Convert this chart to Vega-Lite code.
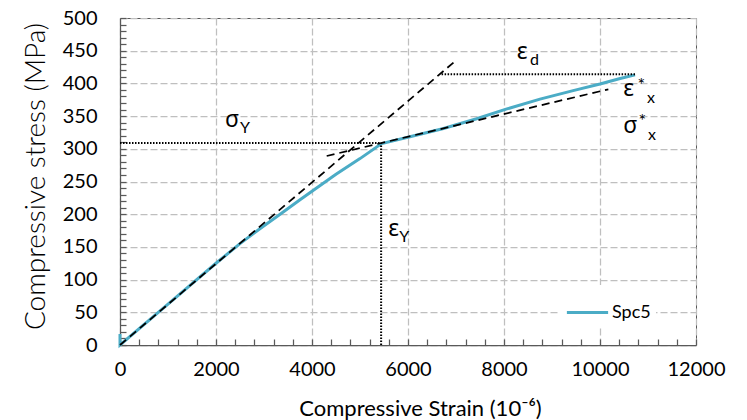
{
  "$schema": "https://vega.github.io/schema/vega-lite/v6.json",
  "autosize": {"type": "none"},
  "width": 576,
  "height": 327,
  "padding": {"left": 120, "top": 18, "right": 51, "bottom": 75},
  "background": "white",
  "config": {
    "font": "Lato",
    "view": {"stroke": "#595959", "strokeWidth": 1},
    "legend": {
      "orient": "none",
      "legendX": 440,
      "legendY": 267,
      "padding": 5,
      "fillColor": "white",
      "symbolType": "stroke",
      "symbolSize": 1700,
      "symbolStrokeWidth": 3,
      "labelFont": "Lato",
      "labelFontSize": 18,
      "labelColor": "#000000",
      "labelOffset": 2,
      "title": null
    }
  },
  "datasets": {
    "curve": [
      {"i": 0, "x": 0, "y": 17, "s": "Spc5"},
      {"i": 1, "x": 0, "y": 0, "s": "Spc5"},
      {"i": 2, "x": 1000, "y": 62.5, "s": "Spc5"},
      {"i": 3, "x": 2000, "y": 125, "s": "Spc5"},
      {"i": 4, "x": 2500, "y": 155, "s": "Spc5"},
      {"i": 5, "x": 2900, "y": 177, "s": "Spc5"},
      {"i": 6, "x": 3300, "y": 198, "s": "Spc5"},
      {"i": 7, "x": 3750, "y": 222, "s": "Spc5"},
      {"i": 8, "x": 4500, "y": 261, "s": "Spc5"},
      {"i": 9, "x": 5000, "y": 285, "s": "Spc5"},
      {"i": 10, "x": 5450, "y": 308, "s": "Spc5"},
      {"i": 11, "x": 6040, "y": 318.5, "s": "Spc5"},
      {"i": 12, "x": 6740, "y": 331, "s": "Spc5"},
      {"i": 13, "x": 7430, "y": 346, "s": "Spc5"},
      {"i": 14, "x": 8060, "y": 361, "s": "Spc5"},
      {"i": 15, "x": 8750, "y": 376, "s": "Spc5"},
      {"i": 16, "x": 9440, "y": 389, "s": "Spc5"},
      {"i": 17, "x": 10000, "y": 399, "s": "Spc5"},
      {"i": 18, "x": 10400, "y": 407, "s": "Spc5"},
      {"i": 19, "x": 10730, "y": 413, "s": "Spc5"}
    ],
    "dashed": [
      {"g": "a", "x": 0, "y": 0},
      {"g": "a", "x": 7014, "y": 436},
      {"g": "b", "x": 4306, "y": 289},
      {"g": "b", "x": 10174, "y": 391}
    ],
    "dotted": [
      {"g": "sy", "x": 0, "y": 309},
      {"g": "sy", "x": 5440, "y": 309},
      {"g": "ey", "x": 5440, "y": 0},
      {"g": "ey", "x": 5440, "y": 309},
      {"g": "ed", "x": 6700, "y": 414},
      {"g": "ed", "x": 10730, "y": 414}
    ],
    "glyphs": [
      {"t": "σ", "x": 2187, "y": 333},
      {"t": "ε", "x": 8264, "y": 438},
      {"t": "ε", "x": 10486, "y": 380},
      {"t": "σ", "x": 10486, "y": 324},
      {"t": "ε", "x": 5590, "y": 166}
    ],
    "subs": [
      {"t": "Y", "x": 2500, "y": 324},
      {"t": "d", "x": 8542, "y": 428},
      {"t": "x", "x": 10979, "y": 370},
      {"t": "x", "x": 11000, "y": 313.5},
      {"t": "Y", "x": 5819, "y": 158}
    ],
    "stars": [
      {"t": "*", "x": 10780, "y": 388},
      {"t": "*", "x": 10800, "y": 334}
    ]
  },
  "resolve": {"axis": {"x": "independent", "y": "independent"}},
  "layer": [
    {
      "data": {"name": "curve"},
      "mark": {"type": "line", "strokeWidth": 3},
      "encoding": {
        "x": {
          "field": "x", "type": "quantitative",
          "scale": {"domain": [0, 12000], "nice": false},
          "axis": {
            "orient": "bottom",
            "values": [0, 2000, 4000, 6000, 8000, 10000, 12000],
            "format": "d",
            "title": "Compressive Strain (10⁻⁶)",
            "ticks": false,
            "labelPadding": 14,
            "labelFlush": false,
            "labelFont": "Lato", "labelFontSize": 20, "labelColor": "#000000",
            "grid": true, "gridDash": [7, 3], "gridColor": "#bfbfbf", "gridWidth": 1.25,
            "domainColor": "#595959", "domainWidth": 1.25,
            "titleFont": "Lato", "titleFontSize": 22, "titleFontWeight": "normal", "titleColor": "#000000",
            "titleX": 300, "titleY": 70, "titleBaseline": "alphabetic", "titleAlign": "center", "titleAnchor": null
          }
        },
        "y": {
          "field": "y", "type": "quantitative",
          "scale": {"domain": [0, 500], "nice": false},
          "axis": {
            "orient": "left",
            "values": [0, 50, 100, 150, 200, 250, 300, 350, 400, 450, 500],
            "title": "Compressive stress (MPa)",
            "ticks": false,
            "labelPadding": 23,
            "labelFont": "Lato", "labelFontSize": 20, "labelColor": "#000000",
            "grid": true, "gridDash": [7, 3], "gridColor": "#bfbfbf", "gridWidth": 1.25,
            "domainColor": "#595959", "domainWidth": 1.25,
            "titleFont": "Lato", "titleFontSize": 28, "titleFontWeight": 300, "titleColor": "#000000",
            "titleAngle": -90, "titleX": -76, "titleY": 158, "titleBaseline": "alphabetic", "titleAlign": "center", "titleAnchor": null
          }
        },
        "order": {"field": "i", "type": "quantitative"},
        "color": {"field": "s", "type": "nominal", "scale": {"range": ["#4BACC6"]}}
      }
    },
    {
      "data": {"name": "dashed"},
      "mark": {"type": "line", "color": "#000000", "strokeWidth": 1.75, "strokeDash": [8, 5]},
      "encoding": {
        "x": {
          "field": "x", "type": "quantitative",
          "scale": {"domain": [0, 12000], "nice": false},
          "axis": {
            "orient": "bottom",
            "offset": -6,
            "values": [0, 400, 800, 1200, 1600, 2000, 2400, 2800, 3200, 3600, 4000, 4400, 4800, 5200, 5600, 6000, 6400, 6800, 7200, 7600, 8000, 8400, 8800, 9200, 9600, 10000, 10400, 10800, 11200, 11600, 12000],
            "labels": false, "grid": false, "domain": false, "title": null,
            "ticks": true, "tickSize": 6, "tickColor": "#595959", "tickWidth": 1.25
          }
        },
        "y": {
          "field": "y", "type": "quantitative",
          "scale": {"domain": [0, 500], "nice": false},
          "axis": {
            "orient": "left",
            "offset": -6,
            "values": [0, 10, 20, 30, 40, 50, 60, 70, 80, 90, 100, 110, 120, 130, 140, 150, 160, 170, 180, 190, 200, 210, 220, 230, 240, 250, 260, 270, 280, 290, 300, 310, 320, 330, 340, 350, 360, 370, 380, 390, 400, 410, 420, 430, 440, 450, 460, 470, 480, 490, 500],
            "labels": false, "grid": false, "domain": false, "title": null,
            "ticks": true, "tickSize": 6, "tickColor": "#595959", "tickWidth": 1.25
          }
        },
        "detail": {"field": "g", "type": "nominal"}
      }
    },
    {
      "data": {"name": "dotted"},
      "mark": {"type": "line", "color": "#000000", "strokeWidth": 2, "strokeDash": [1.5, 1.5]},
      "encoding": {
        "x": {"field": "x", "type": "quantitative", "scale": {"domain": [0, 12000], "nice": false}, "axis": null},
        "y": {"field": "y", "type": "quantitative", "scale": {"domain": [0, 500], "nice": false}, "axis": null},
        "detail": {"field": "g", "type": "nominal"}
      }
    },
    {
      "data": {"name": "glyphs"},
      "mark": {"type": "text", "font": "Noto Sans", "fontSize": 23, "align": "left", "baseline": "alphabetic", "color": "#000000"},
      "encoding": {
        "x": {"field": "x", "type": "quantitative", "scale": {"domain": [0, 12000], "nice": false}, "axis": null},
        "y": {"field": "y", "type": "quantitative", "scale": {"domain": [0, 500], "nice": false}, "axis": null},
        "text": {"field": "t"}
      }
    },
    {
      "data": {"name": "subs"},
      "mark": {"type": "text", "font": "Lato", "fontSize": 16, "align": "left", "baseline": "alphabetic", "color": "#000000"},
      "encoding": {
        "x": {"field": "x", "type": "quantitative", "scale": {"domain": [0, 12000], "nice": false}, "axis": null},
        "y": {"field": "y", "type": "quantitative", "scale": {"domain": [0, 500], "nice": false}, "axis": null},
        "text": {"field": "t"}
      }
    },
    {
      "data": {"name": "stars"},
      "mark": {"type": "text", "font": "Lato", "fontSize": 18, "align": "left", "baseline": "alphabetic", "color": "#000000"},
      "encoding": {
        "x": {"field": "x", "type": "quantitative", "scale": {"domain": [0, 12000], "nice": false}, "axis": null},
        "y": {"field": "y", "type": "quantitative", "scale": {"domain": [0, 500], "nice": false}, "axis": null},
        "text": {"field": "t"}
      }
    }
  ]
}
